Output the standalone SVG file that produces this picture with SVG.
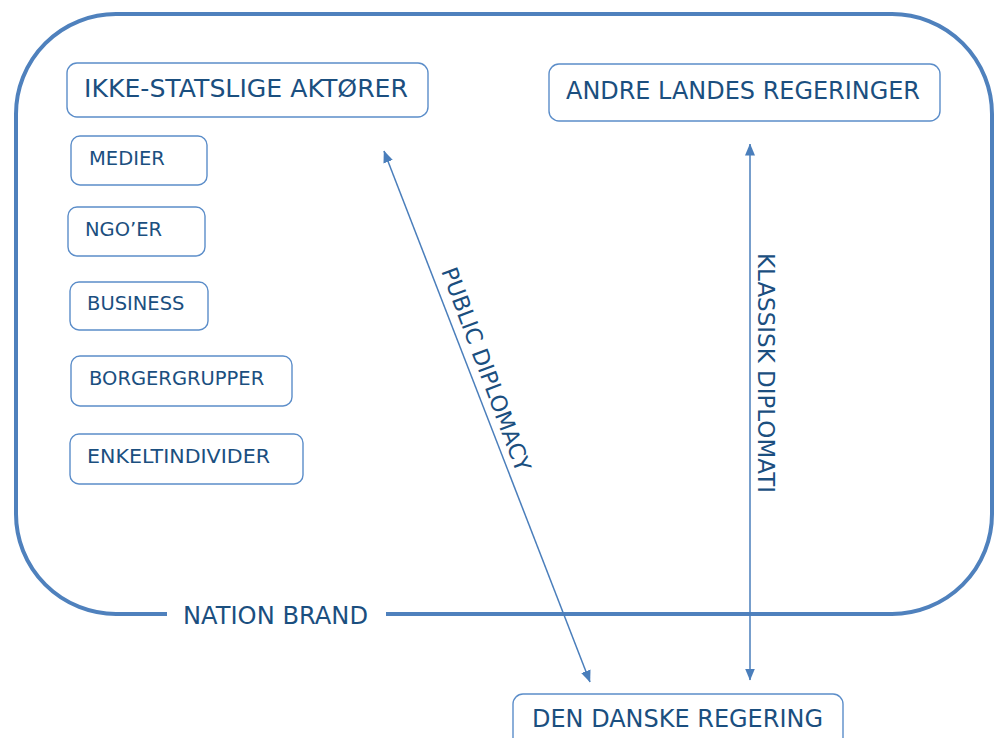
<svg xmlns="http://www.w3.org/2000/svg" width="996" height="738" viewBox="0 0 996 738">
<style>
.box{fill:#fff;stroke:#5b8dc9;stroke-width:1.4}
.t{font-family:"DejaVu Sans",Verdana,sans-serif;fill:#1b4f7f}
.big{font-size:24.3px}
.sm{font-size:19.5px}
.lbl{font-size:22.5px}
.con{stroke:#4a7ebb;stroke-width:1.5;fill:none}
</style>
<defs>
<marker id="ah" viewBox="0 0 12 10" refX="11.5" refY="5" markerWidth="12" markerHeight="10" orient="auto-start-reverse" markerUnits="userSpaceOnUse">
<path d="M0,0 L12,5 L0,10 z" fill="#4a7ebb"/>
</marker>
</defs>
<rect width="996" height="738" fill="#fff"/>
<g id="nation-brand">
<path d="M386,614 L892,614 A100,100 0 0 0 992,514 L992,114 A100,100 0 0 0 892,14 L116,14 A100,100 0 0 0 16,114 L16,514 A100,100 0 0 0 116,614 L167,614" fill="none" stroke="#4f81bd" stroke-width="4"/>
<text class="t" x="183" y="624" font-size="24" textLength="185" lengthAdjust="spacingAndGlyphs">NATION BRAND</text>
</g>
<g id="ikke-statslige">
<rect class="box" x="67" y="63" width="361" height="54" rx="10"/>
<text class="t big" x="84" y="97" textLength="324" lengthAdjust="spacingAndGlyphs">IKKE-STATSLIGE AKTØRER</text>
</g>
<g id="andre-landes">
<rect class="box" x="549" y="64" width="391" height="57" rx="10"/>
<text class="t big" x="566" y="99" textLength="354" lengthAdjust="spacingAndGlyphs">ANDRE LANDES REGERINGER</text>
</g>
<g id="medier">
<rect class="box" x="71" y="136" width="136" height="49" rx="9"/>
<text class="t sm" x="89" y="165">MEDIER</text>
</g>
<g id="ngoer">
<rect class="box" x="68" y="207" width="137" height="49" rx="9"/>
<text class="t sm" x="85" y="236">NGO’ER</text>
</g>
<g id="business">
<rect class="box" x="70" y="282" width="138" height="48" rx="9"/>
<text class="t sm" x="87" y="310">BUSINESS</text>
</g>
<g id="borgergrupper">
<rect class="box" x="71" y="356" width="221" height="50" rx="9"/>
<text class="t sm" x="89" y="385">BORGERGRUPPER</text>
</g>
<g id="enkeltindivider">
<rect class="box" x="70" y="434" width="233" height="50" rx="9"/>
<text class="t sm" x="87" y="463" textLength="183" lengthAdjust="spacingAndGlyphs">ENKELTINDIVIDER</text>
</g>
<g id="den-danske">
<rect class="box" x="513" y="694" width="330" height="60" rx="10"/>
<text class="t big" x="532" y="727" textLength="291" lengthAdjust="spacingAndGlyphs">DEN DANSKE REGERING</text>
</g>
<g id="connectors">
<line class="con" x1="384" y1="151" x2="590" y2="682" marker-start="url(#ah)" marker-end="url(#ah)"/>
<line class="con" x1="750" y1="144" x2="750" y2="680" marker-start="url(#ah)" marker-end="url(#ah)"/>
<text class="t lbl" x="441" y="271" transform="rotate(69.5 441 271)" textLength="216" lengthAdjust="spacingAndGlyphs">PUBLIC DIPLOMACY</text>
<text class="t lbl" x="758" y="253" transform="rotate(90 758 253)" textLength="240" lengthAdjust="spacingAndGlyphs">KLASSISK DIPLOMATI</text>
</g>
</svg>
